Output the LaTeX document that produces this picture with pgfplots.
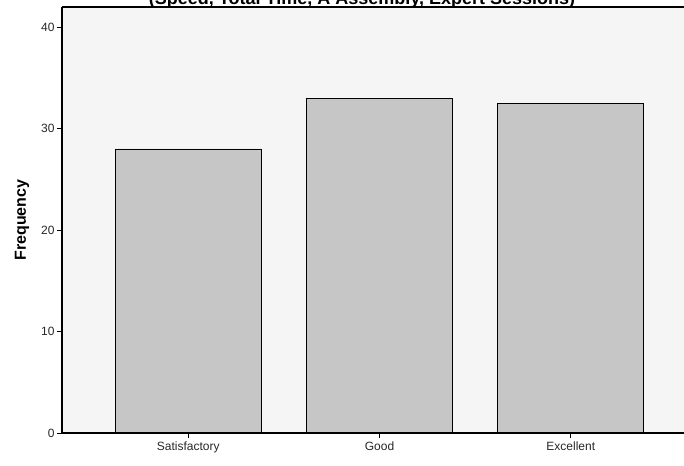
\documentclass[border=0pt]{standalone}
\usepackage{pgfplots}
\pgfplotsset{compat=1.18}
\usepackage{fontspec}
\setmainfont{Liberation Sans}
\begin{document}
\begin{tikzpicture}[x=1pt,y=1pt]
\begin{axis}[
  at={(62pt,32pt)}, anchor=south west,
  scale only axis, width=635pt, height=426pt,
  xmin=-0.66, xmax=2.66, ymin=0, ymax=42,
  axis line style={draw=none},
  axis background/.style={fill=gray!8},
  ybar, bar width=146pt,
  xtick={0,1,2}, xticklabels={Satisfactory,Good,Excellent},
  ytick={0,10,20,30,40},
  xtick pos=left, ytick pos=left,
  tick align=outside, major tick length=5pt,
  tick style={black, line width=0.8pt},
  ticklabel style={font=\fontsize{12}{13}\selectfont, text=black!85},
  yticklabel style={xshift=1pt},
  xticklabel style={yshift=0pt},
  /pgf/number format/assume math mode=true,
  ylabel={Frequency},
  ylabel style={at={(axis description cs:-0.063,0.5)}, anchor=center, font=\fontsize{16}{18}\selectfont\bfseries},
  clip=false,
]
\addplot[fill=gray!45, draw=black, line width=0.9pt] coordinates {(0,28) (1,33) (2,32.5)};
\draw[line width=1.1pt] (rel axis cs:0,1) -- (rel axis cs:0,0) -- (rel axis cs:1,0);
\draw[line width=1.1pt] (rel axis cs:0,1) -- (rel axis cs:1,1);
\end{axis}
\node[anchor=base, font=\fontsize{18}{20}\selectfont\bfseries, inner sep=0pt] at (362,460) {(Speed, Total Time, A Assembly, Expert Sessions)};
\pgfresetboundingbox
\useasboundingbox (0,0) rectangle (684,465);
\end{tikzpicture}
\end{document}
